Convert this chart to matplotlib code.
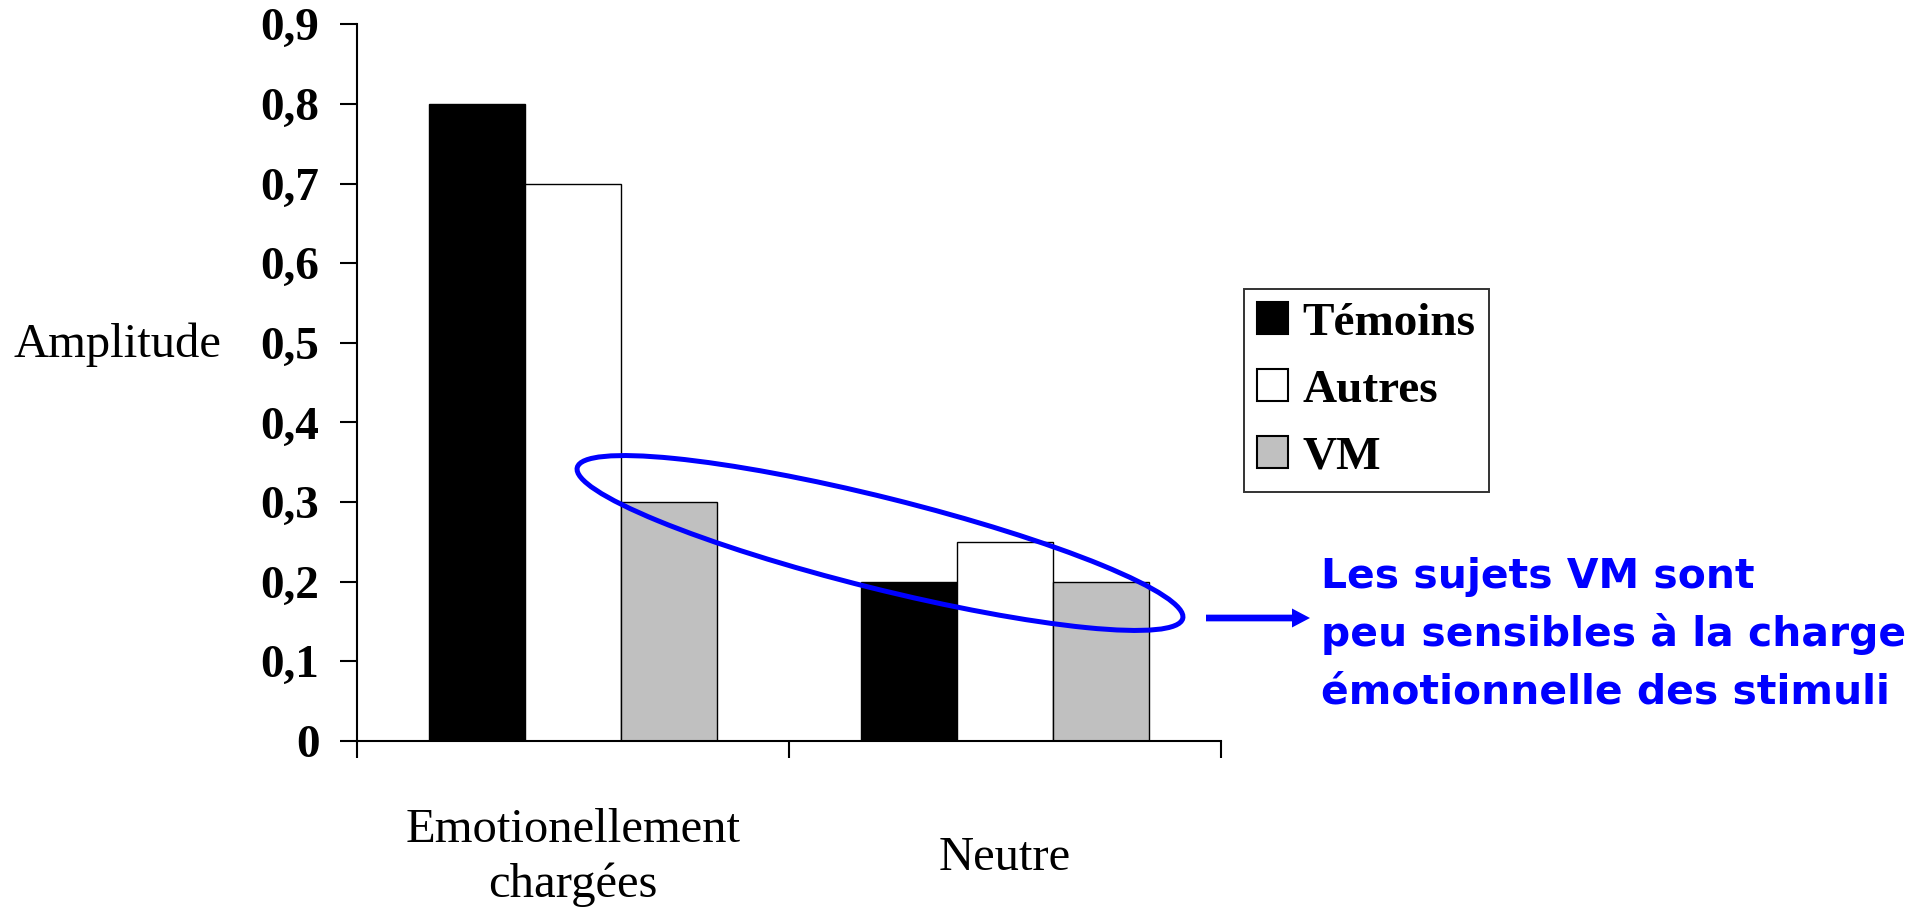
import matplotlib
matplotlib.use("Agg")
import matplotlib.pyplot as plt
from matplotlib.patches import Patch, Ellipse, FancyArrow
import numpy as np

# Data
categories = ["Emotionellement\nchargées", "Neutre"]
series_names = ["Témoins", "Autres", "VM"]
temoins = [0.8, 0.2]
autres = [0.7, 0.25]
vm = [0.3, 0.2]
ytick_values = [0, 0.1, 0.2, 0.3, 0.4, 0.5, 0.6, 0.7, 0.8, 0.9]
ytick_labels = ["0", "0,1", "0,2", "0,3", "0,4", "0,5", "0,6", "0,7", "0,8", "0,9"]
note_lines = ["Les sujets VM sont",
              "peu sensibles à la charge",
              "émotionnelle des stimuli"]

W, H, DPI = 1930, 910, 100
fig = plt.figure(figsize=(W / DPI, H / DPI), dpi=DPI)
fig.patch.set_facecolor("white")

serif = "Liberation Serif"
FS = 34
FS_CAT = 35

# axes box in pixels: left 357, right 1221, top 24, bottom 741
ax = fig.add_axes([357 / W, (H - 741) / H, (1221 - 357) / W, (741 - 24.3) / H])

x = np.arange(len(categories))
bw = 1 / 4.5
series = [temoins, autres, vm]
colors = ["black", "white", "#C0C0C0"]
for i, (vals, col, name) in enumerate(zip(series, colors, series_names)):
    ax.bar(x + (i - 1) * bw, vals, width=bw, color=col, edgecolor="black",
           linewidth=1.0, label=name, zorder=2)

ax.set_xlim(-0.5, len(categories) - 0.5)
ax.set_ylim(0, 0.9)

for side in ("top", "right"):
    ax.spines[side].set_visible(False)
for side in ("left", "bottom"):
    ax.spines[side].set_linewidth(1.5)

ax.set_yticks(ytick_values)
ax.set_yticklabels(ytick_labels, fontfamily=serif, fontweight="bold", fontsize=FS)
ax.tick_params(axis="y", direction="out", length=12, width=1.5, pad=15)

# category separators as major ticks, category names as minor ticks
ax.set_xticks(np.arange(-0.5, len(categories)))
ax.set_xticklabels([])
ax.set_xticks(x, minor=True)
ax.set_xticklabels(categories, minor=True, fontfamily=serif, fontsize=FS_CAT,
                   linespacing=1.3)
ax.tick_params(axis="x", which="major", direction="out", length=12, width=1.5)
ax.tick_params(axis="x", which="minor", length=0, pad=84)
for lab in ax.get_xticklabels(minor=True):
    lab.set_verticalalignment("center")

ax.set_ylabel("Amplitude", rotation=0, fontfamily=serif, fontsize=FS_CAT,
              ha="center", va="center")
ax.yaxis.set_label_coords((117 - 357) / 864, (741 - 345) / 716.7)

handles = [Patch(facecolor=c, edgecolor="black", linewidth=1.5) for c in colors]
leg = ax.legend(handles, series_names, loc="upper left",
                bbox_to_anchor=(1244 / W, 1 - 289 / H), bbox_transform=fig.transFigure,
                borderaxespad=0, frameon=True, fancybox=False, shadow=False,
                prop={"family": serif, "weight": "bold", "size": FS},
                handlelength=0.66, handleheight=0.66, handletextpad=0.3,
                labelspacing=0.52, borderpad=0.28)
leg.get_frame().set_edgecolor("black")
leg.get_frame().set_linewidth(1.4)

# highlight ring and arrow (figure pixel positions expressed in inches)
blue = "#0000FF"
ring = Ellipse((880 / DPI, (H - 543) / DPI), width=624 / DPI, height=91 / DPI,
               angle=-14.0, transform=fig.dpi_scale_trans, fill=False,
               edgecolor=blue, linewidth=3.6, zorder=5)
fig.add_artist(ring)
arrow = FancyArrow(1206 / DPI, (H - 618) / DPI, 104 / DPI, 0, width=6.7 / DPI,
                   head_width=19 / DPI, head_length=18 / DPI,
                   length_includes_head=True, transform=fig.dpi_scale_trans,
                   color=blue, linewidth=0, zorder=5)
fig.add_artist(arrow)

baselines = [588, 646, 703]
for line, yb in zip(note_lines, baselines):
    fig.text(1321 / W, (H - yb) / H, line, color=blue, fontfamily="DejaVu Sans",
             fontweight="bold", fontsize=29.4, ha="left", va="baseline")

fig.savefig("out.png", dpi=DPI)
